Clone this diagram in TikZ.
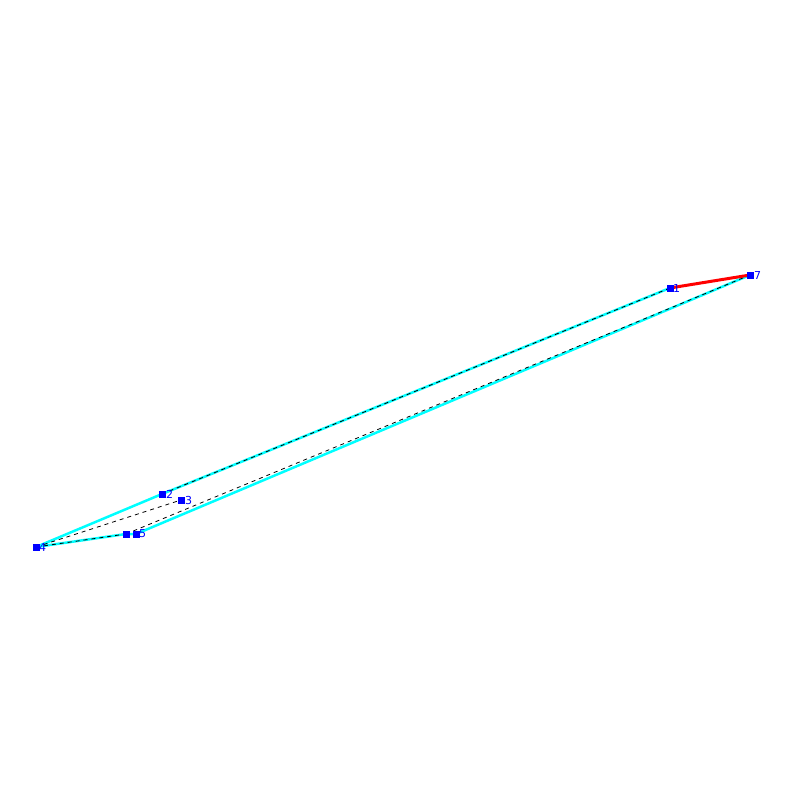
\documentclass[tikz,border=0pt]{standalone}
\usepackage{fontspec}
\setmainfont{DejaVu Sans}
\definecolor{aqua}{RGB}{0,255,255}
\definecolor{ptblue}{RGB}{0,0,255}
\definecolor{lred}{RGB}{255,0,0}
\begin{document}
\begin{tikzpicture}[x=1pt,y=-1pt,
  pt/.style={fill=ptblue,draw=none,minimum size=7pt,inner sep=0pt,outer sep=0pt},
  lbl/.style={text=ptblue,font=\fontsize{11}{11}\selectfont,inner sep=0pt,anchor=west},
  cy/.style={draw=aqua,line width=2.5pt},
  dsh/.style={draw=black,line width=0.8pt,dash pattern=on 4pt off 4pt},
  rd/.style={draw=lred,line width=3pt}]
\useasboundingbox (0,0) rectangle (800,800);
\coordinate (p1) at (670,288);
\coordinate (p7) at (750,275);
\coordinate (p2) at (162,494);
\coordinate (p3) at (181,500);
\coordinate (p4) at (36,547);
\coordinate (p6) at (126,534);
\coordinate (p5) at (136,534);
% cyan edges
\draw[cy] (p4) -- (p2) -- (p1);
\draw[cy] (p4) -- (p6) -- (p5) -- (p7);
% dashed edges
\draw[dsh] (p2) -- (p1);
\draw[dsh] (p4) -- (p3);
\draw[dsh] (p4) -- (p6);
\draw[dsh] (p6) -- (p7);
% red
\draw[rd] (p1) -- (p7);
% points
\node[pt] (n1) at (p1) {};
\node[pt] (n7) at (p7) {};
\node[pt] (n2) at (p2) {};
\node[pt] (n3) at (p3) {};
\node[pt] (n4) at (p4) {};
\node[pt] (n6) at (p6) {};
\node[pt] (n5) at (p5) {};
\node[lbl] (l1) at (673,288) {1};
\node[lbl] (l7) at (754,275) {7};
\node[lbl] (l2) at (166,494) {2};
\node[lbl] (l3) at (185,500) {3};
\node[lbl] (l4) at (39,547) {4};
\node[lbl] (l5) at (139,534) {5};
\end{tikzpicture}
\end{document}
